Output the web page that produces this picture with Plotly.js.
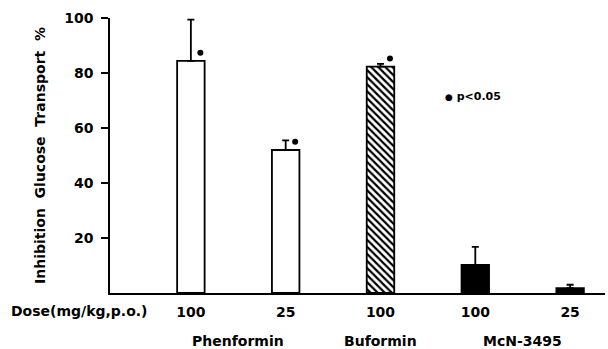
<!DOCTYPE html>
<html><head><meta charset="utf-8">
<script src="https://cdn.plot.ly/plotly-3.0.1.min.js"></script>
<style>body{margin:0;background:#fff}#c{width:608px;height:349px}</style>
</head><body><div id="c"></div>
<script>
const positions = [1, 2, 3, 4, 5];
const doses = ['100', '25', '100', '100', '25'];
const drugs = ['Phenformin', 'Buformin', 'McN-3495'];
const drugPos = [1.5, 3, 4.5];
const inhibition = [84.4, 52, 82.3, 10.2, 1.8];
const errPlus = [15, 3.5, 1, 6.6, 1.2];
const fills = ['open', 'open', 'hatched', 'solid', 'solid'];
const significant = [true, true, true, false, false];

const F = {family: 'DejaVu Sans, sans-serif', size: 14, color: '#000', weight: 'bold'};

function barTrace(kind, extraMarker) {
  const idx = fills.map((f, i) => f === kind ? i : -1).filter(i => i >= 0);
  return {
    type: 'bar', x: idx.map(i => positions[i]), y: idx.map(i => inhibition[i]), width: 0.29,
    marker: Object.assign({line: {color: '#000', width: 1.8}}, extraMarker),
    error_y: {type: 'data', symmetric: false, array: idx.map(i => errPlus[i]), arrayminus: idx.map(() => 0),
              color: '#000', thickness: 1.8, width: 3.5},
    hoverinfo: 'none'
  };
}
const openBars = barTrace('open', {color: '#fff'});
const hatchBars = barTrace('hatched', {color: '#fff', pattern: {shape: '\\', fgcolor: '#000', bgcolor: '#fff', size: 5, solidity: 0.45}});
const solidBars = barTrace('solid', {color: '#000'});

const sx = [], sy = [];
significant.forEach((s, i) => { if (s) { sx.push(positions[i] + 0.1); sy.push(inhibition[i] + 3); } });
const stars = {type: 'scatter', mode: 'markers', x: sx, y: sy, marker: {symbol: 'circle', size: 6, color: '#000'}, hoverinfo: 'none'};

const annotations = drugs.map((d, i) => ({
  x: drugPos[i], xref: 'x', y: -0.173, yref: 'paper', text: d, showarrow: false, font: F, xanchor: 'center', yanchor: 'middle'
}));
annotations.push({x: -0.205, xref: 'paper', xanchor: 'left', y: -0.066, yref: 'paper', text: 'Dose(mg/kg,p.o.)', showarrow: false, font: F, yanchor: 'middle'});
annotations.push({x: 0.672, xref: 'paper', xanchor: 'left', y: 0.713, yref: 'paper',
  text: '<span style="font-size:9px">●</span> p<0.05', showarrow: false, font: {...F, size: 11}, yanchor: 'middle'});

const layout = {
  width: 608, height: 349,
  margin: {l: 110, r: 3, t: 18, b: 56},
  paper_bgcolor: '#fff', plot_bgcolor: '#fff',
  showlegend: false, font: F, barmode: 'overlay',
  xaxis: {range: [0.147, 5.368], tickvals: positions, ticktext: doses, showgrid: false, zeroline: false,
          showline: true, linecolor: '#000', linewidth: 1.8, ticks: '', tickfont: F, fixedrange: true,
          ticklabelstandoff: 5},
  yaxis: {range: [0, 100], tickvals: [20, 40, 60, 80, 100], showgrid: false, zeroline: false,
          showline: true, linecolor: '#000', linewidth: 1.8, ticks: 'outside', ticklen: 7, tickwidth: 1.8, tickcolor: '#000',
          ticklabelstandoff: 5,
          tickfont: F, title: {text: 'Inhibition  Glucose  Transport  %', font: F, standoff: 15}, fixedrange: true},
  annotations: annotations
};
Plotly.newPlot('c', [openBars, hatchBars, solidBars, stars], layout, {staticPlot: true});
</script></body></html>
